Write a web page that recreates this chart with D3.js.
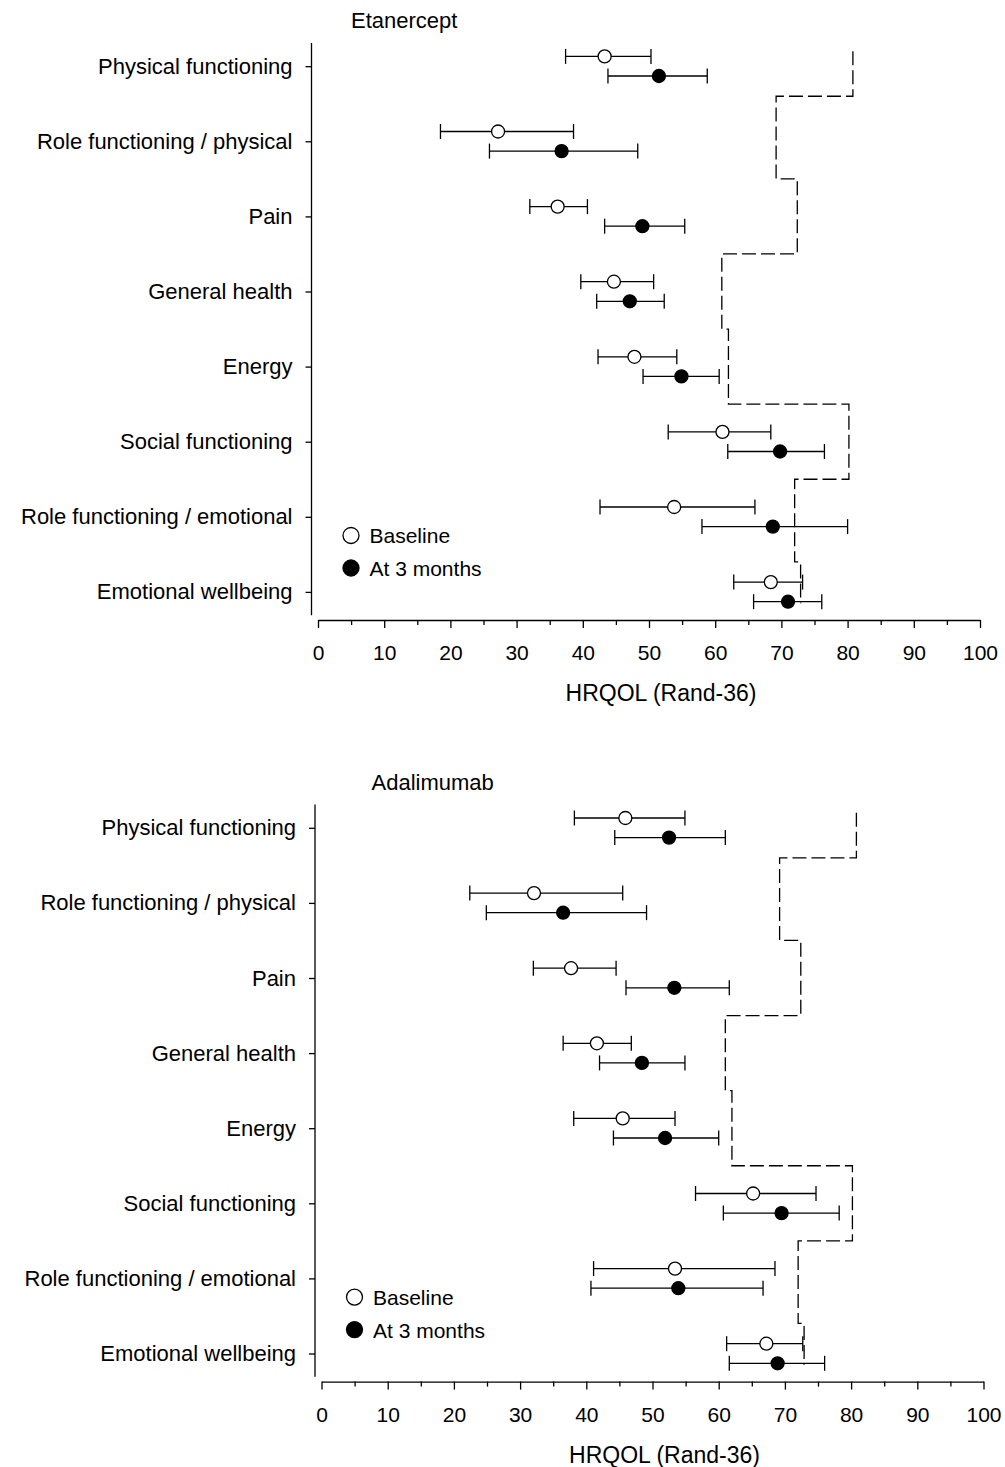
<!DOCTYPE html>
<html>
<head>
<meta charset="utf-8">
<script src="https://cdn.jsdelivr.net/npm/d3@7"></script>
<style>
  body { margin: 0; background: #fff; }
  svg { display: block; font-family: "Liberation Sans", Arial, sans-serif; }
</style>
</head>
<body>
<script>

var categories = [
    "Physical functioning",
    "Role functioning / physical",
    "Pain",
    "General health",
    "Energy",
    "Social functioning",
    "Role functioning / emotional",
    "Emotional wellbeing"
];

var xTicks = [0, 10, 20, 30, 40, 50, 60, 70, 80, 90, 100];

// reference (norm) values, drawn as the dashed step line
var normValues = [80.8, 69.2, 72.4, 61.0, 62.0, 80.2, 72.0, 72.9];
var normBreaks = [-0.2, 0.4, 1.5, 2.5, 3.5, 4.5, 5.5, 6.6, 7.15];

// Etanercept
var etaBaseMean = [43.3, 27.2, 36.2, 44.7, 47.8, 61.1, 53.8, 68.4];
var etaBaseLo   = [37.4, 18.5, 32.0, 39.7, 42.3, 52.9, 42.6, 62.8];
var etaBaseHi   = [50.3, 38.6, 40.7, 50.7, 54.2, 68.4, 66.0, 73.2];
var eta3mMean   = [51.5, 36.8, 49.0, 47.1, 54.9, 69.8, 68.7, 71.0];
var eta3mLo     = [43.8, 25.9, 43.3, 42.1, 49.1, 61.9, 58.0, 65.8];
var eta3mHi     = [58.8, 48.3, 55.4, 52.3, 60.6, 76.5, 80.0, 76.1];

// Adalimumab
var adaBaseMean = [45.9, 32.1, 37.7, 41.6, 45.5, 65.2, 53.4, 67.2];
var adaBaseLo   = [38.2, 22.4, 32.0, 36.5, 38.1, 56.5, 41.1, 61.2];
var adaBaseHi   = [54.9, 45.5, 44.5, 46.8, 53.4, 74.7, 68.5, 72.7];
var ada3mMean   = [52.5, 36.5, 53.3, 48.4, 51.9, 69.5, 53.9, 68.9];
var ada3mLo     = [44.3, 24.9, 46.0, 42.0, 44.1, 60.7, 40.7, 61.6];
var ada3mHi     = [61.0, 49.1, 61.6, 54.9, 60.0, 78.2, 66.7, 76.0];

var width = 1005,
    height = 1467;

const svg = d3.select("body")
    .append("svg")
    .attr("width", width)
    .attr("height", height);

var x = d3.scaleLinear().domain([0, 100]).range([318, 980]);
var y = d3.scaleLinear().domain([0, 7]).range([66.2, 591.9]);

var markR = 6.5,
    offset = 9.8,
    capH = 7.5,
    axisY = 620,
    axisX = 311.5;

function series(mean, lo, hi) {
    return mean.map((m, i) => ({i: i, mean: m, lo: lo[i], hi: hi[i]}));
}

function drawErrors(g, data, dy, filled) {
    var grp = g.append("g");
    grp.selectAll("line.bar")
        .data(data)
        .join("line")
        .attr("x1", d => x(d.lo))
        .attr("x2", d => x(d.hi))
        .attr("y1", d => y(d.i) + dy)
        .attr("y2", d => y(d.i) + dy)
        .style("stroke", "#000")
        .style("stroke-width", 1.3);
    ["lo", "hi"].forEach(k => {
        grp.selectAll("line.cap" + k)
            .data(data)
            .join("line")
            .attr("x1", d => x(d[k]))
            .attr("x2", d => x(d[k]))
            .attr("y1", d => y(d.i) + dy - capH)
            .attr("y2", d => y(d.i) + dy + capH)
            .style("stroke", "#000")
            .style("stroke-width", 1.3);
    });
    grp.selectAll("circle")
        .data(data)
        .join("circle")
        .attr("cx", d => x(d.mean))
        .attr("cy", d => y(d.i) + dy)
        .attr("r", markR)
        .attr("fill", filled ? "#000" : "#fff")
        .style("stroke", "#000")
        .style("stroke-width", 1.3);
}

function drawPanel(title, titleX, base, after, dx, dy) {
    var g = svg.append("g").attr("transform", `translate(${dx},${dy})`);

    g.append("text")
        .attr("x", titleX)
        .attr("y", 28)
        .style("font-size", "22px")
        .text(title);

    // y axis (offset from x axis, as in the original)
    var yAxis = d3.axisLeft(y)
        .tickValues(d3.range(categories.length))
        .tickFormat(i => categories[i])
        .tickSize(6)
        .tickSizeOuter(0)
        .tickPadding(13);
    var ya = g.append("g")
        .attr("transform", `translate(${axisX},0)`)
        .call(yAxis);
    ya.select(".domain").remove();
    ya.append("line")
        .attr("y1", y(-0.31))
        .attr("y2", y(7.31))
        .style("stroke", "#000")
        .style("stroke-width", 1.3);
    ya.selectAll(".tick line").style("stroke-width", 1.3);
    ya.selectAll("text")
        .style("font-size", "22px")
        .style("font-family", "'Liberation Sans', Arial, sans-serif")
        .attr("fill", "#000");

    // x axis with minor ticks
    var xMinor = d3.axisBottom(x)
        .tickValues(d3.range(5, 100, 10))
        .tickSize(5)
        .tickFormat("");
    g.append("g")
        .attr("transform", `translate(0,${axisY})`)
        .call(xMinor)
        .call(a => a.select(".domain").remove())
        .selectAll("line").style("stroke-width", 1.3);

    var xAxis = d3.axisBottom(x)
        .tickValues(xTicks)
        .tickSize(8)
        .tickSizeOuter(0)
        .tickPadding(17);
    var xa = g.append("g")
        .attr("transform", `translate(0,${axisY})`)
        .call(xAxis);
    xa.select(".domain").style("stroke-width", 1.3);
    xa.selectAll(".tick line").style("stroke-width", 1.3);
    xa.selectAll("text")
        .style("font-size", "21px")
        .style("font-family", "'Liberation Sans', Arial, sans-serif")
        .attr("fill", "#000");

    g.append("text")
        .attr("x", 661)
        .attr("y", 701)
        .attr("text-anchor", "middle")
        .style("font-size", "23px")
        .text("HRQOL (Rand-36)");

    // dashed norm step line
    var steps = [];
    normValues.forEach((v, i) => {
        steps.push([v, normBreaks[i]]);
        steps.push([v, normBreaks[i + 1]]);
    });
    g.append("path")
        .datum(steps)
        .attr("d", d3.line().x(d => x(d[0])).y(d => y(d[1])))
        .attr("fill", "none")
        .style("stroke", "#000")
        .style("stroke-width", 1.3)
        .style("stroke-dasharray", "14,5");

    drawErrors(g, base, -offset, false);
    drawErrors(g, after, offset, true);

    // legend
    var legend = [
        {label: "Baseline", filled: false},
        {label: "At 3 months", filled: true}
    ];
    var lg = g.append("g");
    lg.selectAll("circle")
        .data(legend)
        .join("circle")
        .attr("cx", 351)
        .attr("cy", (d, i) => 535.5 + i * 32.5)
        .attr("r", 8)
        .attr("fill", d => d.filled ? "#000" : "#fff")
        .style("stroke", "#000")
        .style("stroke-width", 1.3);
    lg.selectAll("text")
        .data(legend)
        .join("text")
        .attr("x", 369.5)
        .attr("y", (d, i) => 543 + i * 33)
        .style("font-size", "21px")
        .text(d => d.label);
}

drawPanel("Etanercept", 351,
    series(etaBaseMean, etaBaseLo, etaBaseHi),
    series(eta3mMean, eta3mLo, eta3mHi), 0, 0);

drawPanel("Adalimumab", 368,
    series(adaBaseMean, adaBaseLo, adaBaseHi),
    series(ada3mMean, ada3mLo, ada3mHi), 3.5, 761.6);

</script>
</body>
</html>
